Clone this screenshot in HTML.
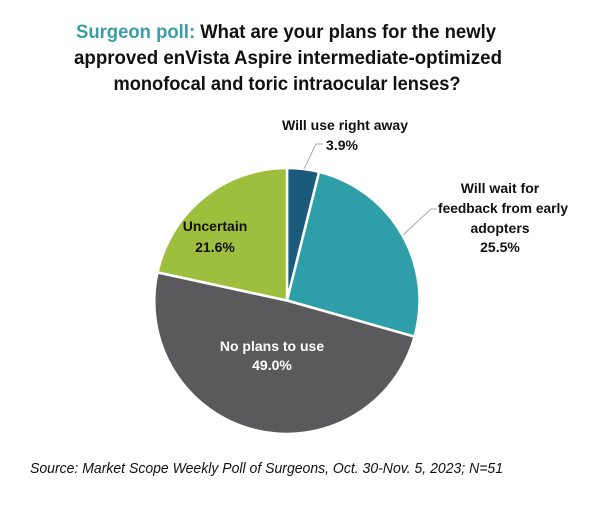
<!DOCTYPE html>
<html><head><meta charset="utf-8"><style>
html,body{margin:0;padding:0;background:#fff;}
svg{display:block;}
text{font-family:"Liberation Sans",sans-serif;font-weight:bold;}
text.src{font-weight:normal;font-style:italic;}
</style></head><body>
<svg width="600" height="511" viewBox="0 0 600 511" xmlns="http://www.w3.org/2000/svg">
<g font-size="19" text-anchor="middle">
<text x="286" y="38" textLength="420" lengthAdjust="spacingAndGlyphs"><tspan fill="#3a9ea5">Surgeon poll: </tspan><tspan fill="#111">What are your plans for the newly</tspan></text>
<text x="288" y="64" fill="#111" textLength="428" lengthAdjust="spacingAndGlyphs">approved enVista Aspire intermediate-optimized</text>
<text x="287" y="90" fill="#111" textLength="347" lengthAdjust="spacingAndGlyphs">monofocal and toric intraocular lenses?</text>
</g>
<g stroke="#fff" stroke-width="2.5" stroke-linejoin="round">
<path d="M287,300.5 L287,168 A132.5,132.5 0 0 1 319.1,171.9 Z" fill="#1b5a7a"/>
<path d="M287,300.5 L319.1,171.9 A132.5,132.5 0 0 1 414.5,336.7 Z" fill="#2e9fa9"/>
<path d="M287,300.5 L414.5,336.7 A132.5,132.5 0 0 1 157.5,272.4 Z" fill="#5a5a5c"/>
<path d="M287,300.5 L157.5,272.4 A132.5,132.5 0 0 1 287,168 Z" fill="#9dbf3d"/>
</g>
<g stroke="#aaa" stroke-width="1" fill="none">
<polyline points="323,144 316,144 304,169"/>
<polyline points="437,209 431,209 403,235"/>
</g>
<g font-size="14" text-anchor="middle" fill="#111">
<text x="345" y="130" textLength="126" lengthAdjust="spacingAndGlyphs">Will use right away</text>
<text x="342" y="150">3.9%</text>
<text x="500" y="193">Will wait for</text>
<text x="503" y="213" textLength="130" lengthAdjust="spacingAndGlyphs">feedback from early</text>
<text x="500" y="233">adopters</text>
<text x="500" y="252">25.5%</text>
<text x="215" y="231">Uncertain</text>
<text x="215" y="252">21.6%</text>
<text x="272" y="351" fill="#fff">No plans to use</text>
<text x="272" y="370" fill="#fff">49.0%</text>
</g>
<text class="src" x="30" y="473" font-size="14.5" fill="#111" textLength="473" lengthAdjust="spacingAndGlyphs">Source: Market Scope Weekly Poll of Surgeons, Oct. 30-Nov. 5, 2023; N=51</text>
</svg>
</body></html>
